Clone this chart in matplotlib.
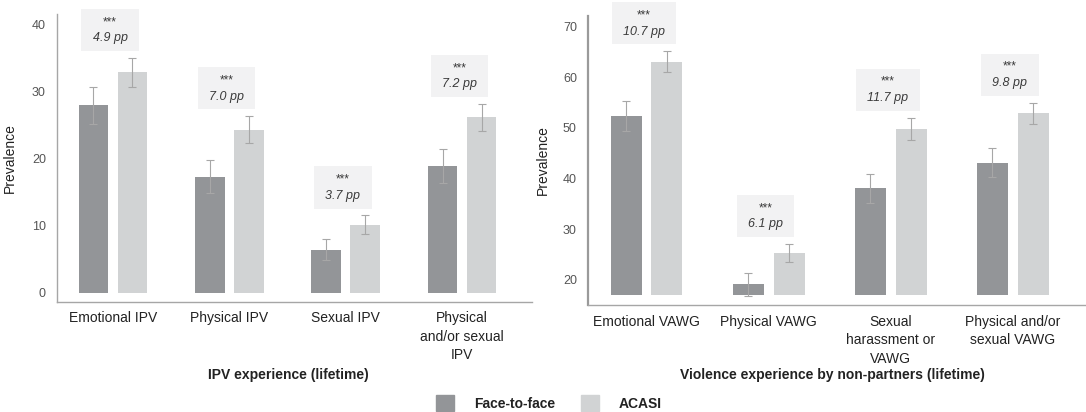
import matplotlib
matplotlib.use('Agg')
import matplotlib.pyplot as plt
import numpy as np
from matplotlib.offsetbox import TextArea, VPacker, HPacker, DrawingArea, AnnotationBbox
from matplotlib.patches import Patch

plt.rcParams['font.family'] = ['Liberation Sans', 'DejaVu Sans']

# IPV panel
ipv_cats = ['Emotional IPV', 'Physical IPV', 'Sexual IPV', 'Physical\nand/or sexual\nIPV']
ipv_f2f = [27.9, 17.3, 6.4, 18.9]
ipv_acasi = [32.8, 24.3, 10.1, 26.1]
ipv_f2f_err = [2.8, 2.4, 1.55, 2.5]
ipv_acasi_err = [2.1, 1.95, 1.4, 1.95]
ipv_diff = ['4.9 pp', '7.0 pp', '3.7 pp', '7.2 pp']
ipv_sig = ['***', '***', '***', '***']
ipv_ticks = [0, 10, 20, 30, 40]

# non-partner panel
vawg_cats = ['Emotional VAWG', 'Physical VAWG', 'Sexual\nharassment or\nVAWG', 'Physical and/or\nsexual VAWG']
vawg_f2f = [52.4, 19.1, 38.1, 43.1]
vawg_acasi = [63.1, 25.2, 49.8, 52.9]
vawg_f2f_err = [3.0, 2.3, 2.85, 2.9]
vawg_acasi_err = [2.0, 1.8, 2.15, 2.1]
vawg_diff = ['10.7 pp', '6.1 pp', '11.7 pp', '9.8 pp']
vawg_sig = ['***', '***', '***', '***']
vawg_ticks = [20, 30, 40, 50, 60, 70]

C_F2F = '#939598'
C_ACASI = '#d1d3d4'
C_ERR = '#a7a7a7'
C_BOX = '#f2f2f3'
C_TXT = '#3a3a3a'


def panel(ax, cats, f2f, acasi, f2f_err, acasi_err, diffs, sigs, ticks, base, ylim, xlabel):
    x = np.arange(len(cats))
    w = 0.254
    off = 0.167
    f2f = np.array(f2f)
    acasi = np.array(acasi)
    ax.bar(x - off, f2f - base, w, bottom=base, color=C_F2F, zorder=2)
    ax.bar(x + off, acasi - base, w, bottom=base, color=C_ACASI, zorder=2)
    ax.errorbar(x - off, f2f, yerr=f2f_err, fmt='none', ecolor=C_ERR,
                elinewidth=0.8, capsize=2.6, capthick=0.8, zorder=3)
    ax.errorbar(x + off, acasi, yerr=acasi_err, fmt='none', ecolor=C_ERR,
                elinewidth=0.8, capsize=2.6, capthick=0.8, zorder=3)

    # difference boxes
    for i in range(len(cats)):
        stars = TextArea(sigs[i], textprops=dict(size=8.5, color=C_TXT))
        val = TextArea(diffs[i], textprops=dict(size=9, style='italic', color=C_TXT))
        col = VPacker(children=[stars, val], align='center', pad=0, sep=3)
        row = HPacker(children=[DrawingArea(3, 1), col, DrawingArea(3, 1)],
                      align='center', pad=5, sep=0)
        top = acasi[i] + acasi_err[i]
        ab = AnnotationBbox(row, (x[i], top), xybox=(-2, 5), xycoords='data',
                            boxcoords='offset points', box_alignment=(0.5, 0),
                            frameon=True, pad=0,
                            bboxprops=dict(boxstyle='square,pad=0', fc=C_BOX, ec='none'))
        ab.set_zorder(4)
        ax.add_artist(ab)

    ax.set_xlim(-0.48, 3.6)
    ax.set_ylim(*ylim)
    ax.set_yticks(ticks)
    ax.set_xticks(x)
    ax.set_xticklabels(cats, linespacing=1.4)
    ax.tick_params(axis='both', length=0)
    ax.tick_params(axis='x', labelsize=10, colors='#222222', pad=7)
    ax.tick_params(axis='y', labelsize=9, colors='#555555', pad=8)
    for s in ['top', 'right']:
        ax.spines[s].set_visible(False)
    for s in ['left', 'bottom']:
        ax.spines[s].set_color('#a6a6a6')
        ax.spines[s].set_linewidth(1)
    ax.set_ylabel('Prevalence', fontsize=10, color='#222222')
    ax.set_xlabel(xlabel, fontsize=10, fontweight='bold', color='#222222')


fig = plt.figure(figsize=(10.86, 4.12), dpi=100)
ax1 = fig.add_axes([57 / 1086, (412 - 301.7) / 412, 475 / 1086, 287.7 / 412])
ax2 = fig.add_axes([588 / 1086, (412 - 305) / 412, 498 / 1086, 289 / 412])

panel(ax1, ipv_cats, ipv_f2f, ipv_acasi, ipv_f2f_err, ipv_acasi_err,
      ipv_diff, ipv_sig, ipv_ticks, 0, (-1.34, 41.5), 'IPV experience (lifetime)')
panel(ax2, vawg_cats, vawg_f2f, vawg_acasi, vawg_f2f_err, vawg_acasi_err,
      vawg_diff, vawg_sig, vawg_ticks, 17, (15, 72.1),
      'Violence experience by non-partners (lifetime)')
ax2.spines['left'].set_linewidth(1.6)
ax2.spines['left'].set_color('#9a9a9a')

ax1.yaxis.set_label_coords(-0.084, 0.5)
ax2.yaxis.set_label_coords(-0.076, 0.5)
ax1.xaxis.set_label_coords(0.487, -0.23)
ax2.xaxis.set_label_coords(0.49, -0.218)

handles = [Patch(color=C_F2F, label='Face-to-face'), Patch(color=C_ACASI, label='ACASI')]
leg = fig.legend(handles=handles, loc='center', bbox_to_anchor=(549 / 1086, 1 - 403 / 412),
                 ncol=2, frameon=False, handlelength=1.3, handleheight=1.3,
                 handletextpad=1.4, columnspacing=1.9, borderpad=0,
                 prop=dict(size=10, weight='bold'))
for t in leg.get_texts():
    t.set_color('#222222')

fig.savefig('out.png', dpi=100)
